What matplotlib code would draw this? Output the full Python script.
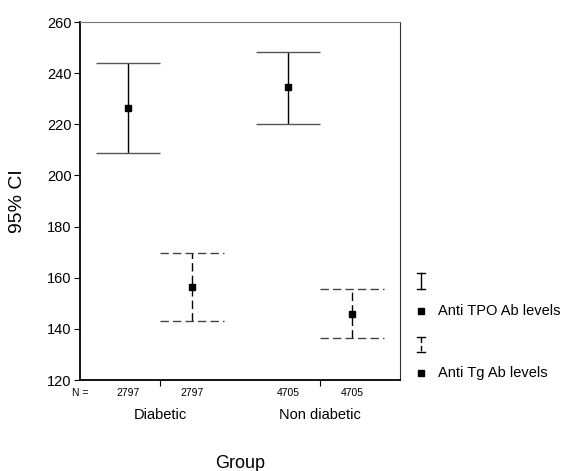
import matplotlib
matplotlib.use('Agg')
import matplotlib.pyplot as plt
from matplotlib.lines import Line2D

# values
groups = ['Diabetic', 'Non diabetic']
n_counts = [2797, 2797, 4705, 4705]
tpo_mean = [226.3, 234.5]
tpo_low = [208.7, 220.1]
tpo_high = [243.9, 248.2]
tg_mean = [156.2, 146.0]
tg_low = [143.1, 136.4]
tg_high = [169.6, 155.6]

plt.rcParams['font.family'] = ['Liberation Sans', 'DejaVu Sans']

fig = plt.figure(figsize=(5.68, 4.71), dpi=100)
ax = fig.add_axes([80 / 568, 91 / 471, 320 / 568, 358 / 471])

centers = [1.25, 3.75]
half = 0.5
tpo_x = [c - 0.5 for c in centers]
tg_x = [c + 0.5 for c in centers]

# solid CI bars for TPO
ax.vlines(tpo_x, tpo_low, tpo_high, color='black', lw=1)
ax.hlines(tpo_low, [x - half for x in tpo_x], [x + half for x in tpo_x], color='#555555', lw=1)
ax.hlines(tpo_high, [x - half for x in tpo_x], [x + half for x in tpo_x], color='#555555', lw=1)
ax.plot(tpo_x, tpo_mean, 's', color='black', ms=4.5, ls='none')

# dashed CI bars for Tg
dash = (0, (6, 3))
ax.vlines(tg_x, tg_low, tg_high, color='black', lw=1, linestyles=[dash])
ax.hlines(tg_low, [x - half for x in tg_x], [x + half for x in tg_x], color='#444444', lw=1, linestyles=[dash])
ax.hlines(tg_high, [x - half for x in tg_x], [x + half for x in tg_x], color='#444444', lw=1, linestyles=[dash])
ax.plot(tg_x, tg_mean, 's', color='black', ms=4.5, ls='none')

ax.set_xlim(0, 5)
ax.set_ylim(120, 260)
ax.set_yticks(range(120, 261, 20))
ax.set_xticks(centers)
ax.set_xticklabels([])
ax.tick_params(axis='y', labelsize=10.5, length=4, direction='out', pad=2)
ax.tick_params(axis='x', length=4, direction='out')

ax.spines['left'].set_linewidth(1.3)
ax.spines['bottom'].set_linewidth(1.3)
ax.spines['top'].set_color('#777777')
ax.spines['right'].set_color('#333333')

# N row and group names
trans = ax.get_xaxis_transform()
ax.text(0, -0.036, 'N =', transform=trans, ha='center', va='center', fontsize=7.5)
for x, n in zip([tpo_x[0], tg_x[0], tpo_x[1], tg_x[1]], n_counts):
    ax.text(x, -0.036, str(n), transform=trans, ha='center', va='center', fontsize=7.5)
for c, g in zip(centers, groups):
    ax.text(c, -0.098, g, transform=trans, ha='center', va='center', fontsize=10.5)
ax.text(0.5, -0.232, 'Group', transform=ax.transAxes, ha='center', va='center', fontsize=13)
ax.set_ylabel('95% CI', fontsize=14)
ax.yaxis.set_label_coords(-0.17, 0.5)

# legend drawn by hand to the right of the axes
def fx(px):
    return px / 568

def fy(py):
    return 1 - py / 471

lx = 421
fig.add_artist(Line2D([fx(lx), fx(lx)], [fy(273), fy(289)], color='black', lw=1, transform=fig.transFigure))
for yy in (273, 289):
    fig.add_artist(Line2D([fx(lx - 4), fx(lx + 4)], [fy(yy), fy(yy)], color='black', lw=1, transform=fig.transFigure))
fig.add_artist(Line2D([fx(lx), fx(lx)], [fy(337), fy(352)], color='black', lw=1, ls=(0, (4, 2)), transform=fig.transFigure))
for yy in (337, 352):
    fig.add_artist(Line2D([fx(lx - 4), fx(lx + 4)], [fy(yy), fy(yy)], color='black', lw=1, transform=fig.transFigure))
for yy, lab in ((311, 'Anti TPO Ab levels'), (373, 'Anti Tg Ab levels')):
    fig.add_artist(Line2D([fx(lx)], [fy(yy)], marker='s', ms=4, color='black', transform=fig.transFigure))
    fig.text(fx(438), fy(yy), lab, ha='left', va='center', fontsize=10.5)

fig.savefig('out.png', dpi=100)
